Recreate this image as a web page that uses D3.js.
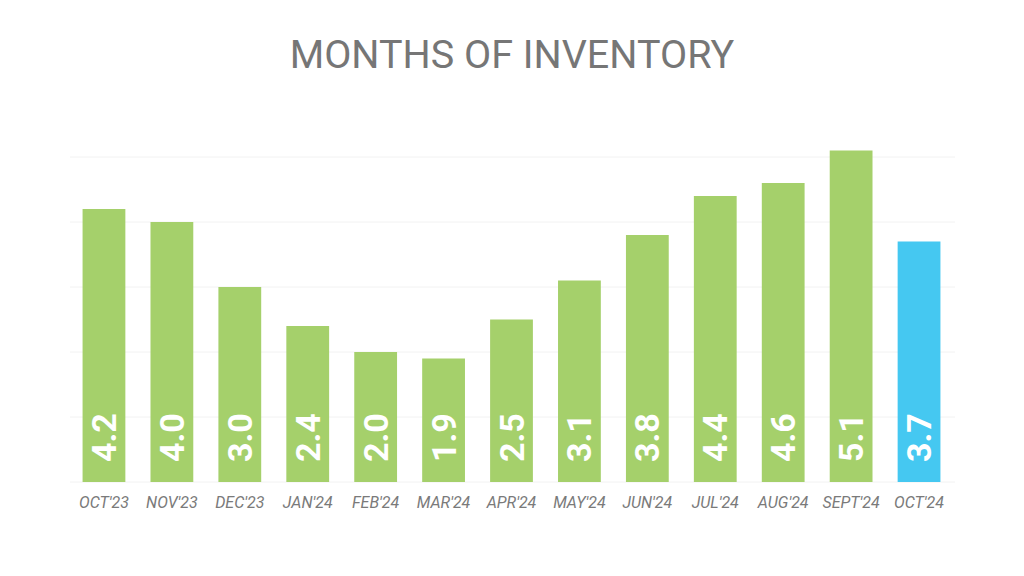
<!DOCTYPE html>
<html>
<head>
<meta charset="utf-8">
<script src="https://cdn.jsdelivr.net/npm/d3@7"></script>
<style>
  body { margin: 0; background: #fff; }
  svg { display: block; }
</style>
</head>
<body>
<svg id="chart" width="1024" height="576"></svg>
<script>
const months = ["OCT'23", "NOV'23", "DEC'23", "JAN'24", "FEB'24", "MAR'24", "APR'24", "MAY'24", "JUN'24", "JUL'24", "AUG'24", "SEPT'24", "OCT'24"]
const inventory = [4.2, 4.0, 3.0, 2.4, 2.0, 1.9, 2.5, 3.1, 3.8, 4.4, 4.6, 5.1, 3.7]
const gridTicks = [0, 1, 2, 3, 4, 5]

const width = 1024
const height = 576
const marginLeft = 70
const marginRight = 71
const marginTop = 157
const baseline = 482

const svg = d3.select('#chart')

svg.append('rect')
  .attr('width', width)
  .attr('height', height)
  .attr('fill', '#ffffff')

// Title
svg.append('text')
  .attr('x', width / 2)
  .attr('y', 68)
  .attr('text-anchor', 'middle')
  .attr('font-family', 'Roboto')
  .attr('font-size', 39.5)
  .attr('fill', '#767676')
  .text('MONTHS OF INVENTORY')

const x = d3.scaleBand()
  .domain(months)
  .range([marginLeft, width - marginRight])
  .paddingInner(0.37)
  .paddingOuter(0.185)

const y = d3.scaleLinear()
  .domain([0, 5])
  .range([baseline, marginTop])

// Gridlines
svg.append('g')
  .selectAll('line')
  .data(gridTicks)
  .join('line')
  .attr('x1', marginLeft)
  .attr('x2', width - marginRight + 2)
  .attr('y1', d => y(d))
  .attr('y2', d => y(d))
  .attr('stroke', '#f2f2f2')
  .attr('stroke-width', 1)

// Bars
svg.append('g')
  .selectAll('rect')
  .data(inventory)
  .join('rect')
  .attr('x', (d, i) => x(months[i]))
  .attr('width', x.bandwidth())
  .attr('y', d => y(d))
  .attr('height', d => y(0) - y(d))
  .attr('fill', (d, i) => i === inventory.length - 1 ? '#45c8f1' : '#a5d06b')

// Value labels, rotated inside bars
svg.append('g')
  .selectAll('text')
  .data(inventory)
  .join('text')
  .attr('transform', (d, i) => `translate(${x(months[i]) + x.bandwidth() / 2 + 12},${baseline - 20}) rotate(-90)`)
  .attr('text-anchor', 'start')
  .attr('font-family', 'Roboto')
  .attr('font-weight', 'bold')
  .attr('font-size', 34)
  .attr('fill', '#ffffff')
  .text(d => d.toFixed(1))

// X axis labels
const xAxis = d3.axisBottom(x).tickSize(0).tickPadding(0)
const gx = svg.append('g')
  .attr('transform', `translate(0,${baseline})`)
  .call(xAxis)
gx.select('.domain').remove()
gx.selectAll('text')
  .attr('dy', 0)
  .attr('y', 26)
  .attr('font-family', 'Roboto')
  .attr('font-style', 'italic')
  .attr('font-size', 16)
  .attr('fill', '#7a7a7a')
</script>
</body>
</html>
